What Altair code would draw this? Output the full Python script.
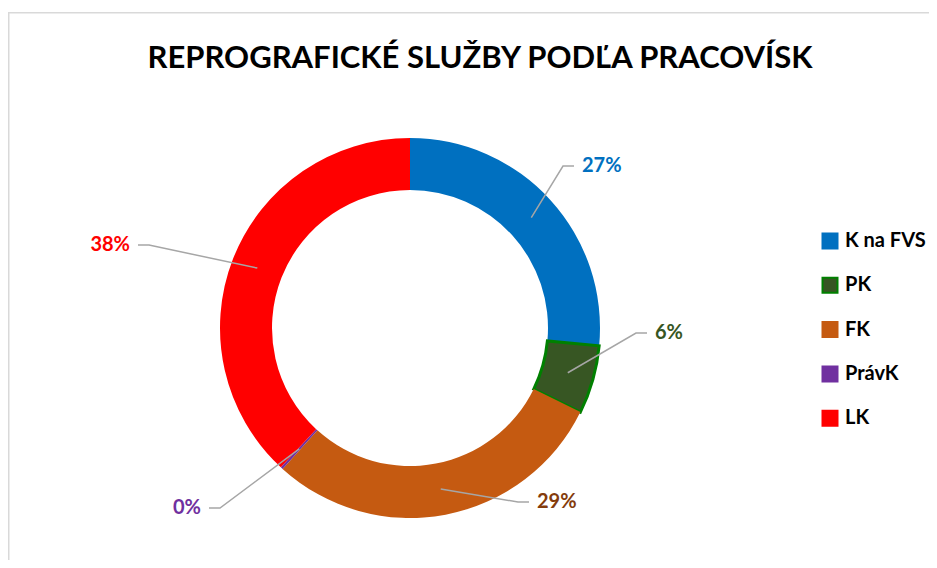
import altair as alt
import pandas as pd
import numpy as np

# ---- data ----
categories = ["K na FVS", "PK", "FK", "PrávK", "LK"]
values = [26.5, 5.8, 29.4, 0.2, 38.1]
labels = ["27%", "6%", "29%", "0%", "38%"]
title_text = "REPROGRAFICKÉ SLUŽBY PODĽA PRACOVÍSK"

# ---- styles ----
fill_colors = ["#0070C0", "#375623", "#C55A11", "#7030A0", "#FF0000"]
stroke_colors = ["#0070C0", "#008000", "#C55A11", "#7030A0", "#FF0000"]
label_colors = ["#0070C0", "#375623", "#843C0C", "#7030A0", "#FF0000"]
FONT = "Lato"

# ---- layout ----
W, H = 921, 552
CX, CY = 402, 320          # donut centre (plot pixels)
R_OUT, R_IN = 190, 138
R_LEADER = 164
elbow_dx = [153, 226, 108, -190, -261]
elbow_dy = [-162, 5, 174, 180, -83]
side = [1, 1, 1, -1, -1]
TAIL = 11
GAP = 8

total = float(sum(values))
cum = np.cumsum(values)
mid = (cum - np.array(values) / 2.0) / total * 2 * np.pi

slices = pd.DataFrame({"cat": categories, "value": values, "idx": range(len(values))})

rows = []
for i, c in enumerate(categories):
    sx = R_LEADER * np.sin(mid[i])
    sy = -R_LEADER * np.cos(mid[i])
    pts = [(sx, sy), (elbow_dx[i], elbow_dy[i]), (elbow_dx[i] + side[i] * TAIL, elbow_dy[i])]
    for k, (px, py) in enumerate(pts):
        rows.append({"cat": c, "k": k, "x": px, "y": -py})
lines = pd.DataFrame(rows)

lab = pd.DataFrame({
    "cat": categories,
    "label": labels,
    "x": [elbow_dx[i] + side[i] * (TAIL + GAP) for i in range(len(categories))],
    "y": [-elbow_dy[i] for i in range(len(categories))],
    "side": side,
    "color": label_colors,
})

xs = alt.Scale(domain=[-CX, W - CX], nice=False, zero=False)
ys = alt.Scale(domain=[-(H - CY), CY], nice=False, zero=False)

legend = alt.Legend(
    title=None, orient="none", legendX=812, legendY=223,
    symbolType="square", symbolSize=225, symbolStrokeWidth=2,
    labelFont=FONT, labelFontSize=20, labelFontWeight="bold", labelColor="#000000",
    rowPadding=20.3, labelOffset=5, padding=0, labelLimit=200,
)

arcs = alt.Chart(slices).mark_arc(outerRadius=R_OUT, innerRadius=R_IN).encode(
    theta=alt.Theta("value:Q", stack=True),
    order=alt.Order("idx:Q"),
    fill=alt.Fill("cat:N", scale=alt.Scale(domain=categories, range=fill_colors), legend=legend, sort=categories),
    stroke=alt.Stroke("cat:N", scale=alt.Scale(domain=categories, range=stroke_colors), legend=legend, sort=categories),
    strokeWidth=alt.condition("datum.cat == 'PK'", alt.value(3), alt.value(0)),
    x=alt.value(CX),
    y=alt.value(CY),
)

leaders = alt.Chart(lines).mark_line(color="#A6A6A6", strokeWidth=1.5).encode(
    x=alt.X("x:Q", scale=xs, axis=None),
    y=alt.Y("y:Q", scale=ys, axis=None),
    detail="cat:N",
    order="k:Q",
)

text_right = alt.Chart(lab).transform_filter("datum.side > 0").mark_text(
    align="left", baseline="middle", font=FONT, fontSize=20, fontWeight="bold"
).encode(
    x=alt.X("x:Q", scale=xs, axis=None),
    y=alt.Y("y:Q", scale=ys, axis=None),
    text="label:N",
    color=alt.Color("color:N", scale=None),
)
text_left = alt.Chart(lab).transform_filter("datum.side < 0").mark_text(
    align="right", baseline="middle", font=FONT, fontSize=20, fontWeight="bold"
).encode(
    x=alt.X("x:Q", scale=xs, axis=None),
    y=alt.Y("y:Q", scale=ys, axis=None),
    text="label:N",
    color=alt.Color("color:N", scale=None),
)

one = pd.DataFrame({"t": [title_text]})
title = alt.Chart(one).mark_text(
    align="center", baseline="alphabetic", font=FONT, fontSize=31, fontWeight="bold", color="#000000"
).encode(x=alt.value(472), y=alt.value(60), text="t:N")

border_left = alt.Chart(one).mark_rule(color="#D9D9D9", strokeWidth=1.5).encode(
    x=alt.value(0.75), y=alt.value(4), y2=alt.value(H)
)
border_top = alt.Chart(one).mark_rule(color="#D9D9D9", strokeWidth=1.5).encode(
    x=alt.value(0), x2=alt.value(W), y=alt.value(4.75)
)

chart = alt.layer(border_left, border_top, arcs, leaders, text_right, text_left, title).resolve_scale(
    color="independent"
).properties(
    width=W, height=H, autosize=alt.AutoSizeParams(type="none"), padding=0, background="white"
).configure_view(stroke=None)

chart.save("out.html", embed_options={"renderer": "svg", "actions": False})
